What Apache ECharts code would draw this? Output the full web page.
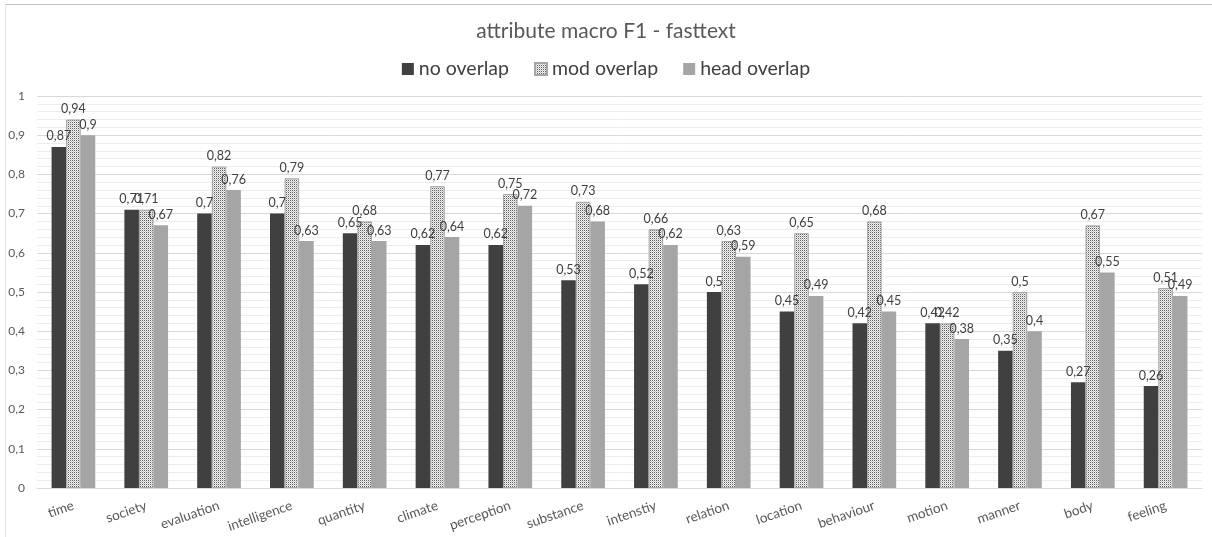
<!DOCTYPE html>
<html>
<head>
<meta charset="utf-8">
<script src="https://cdn.jsdelivr.net/npm/echarts@6/dist/echarts.min.js"></script>
<style>
  html, body { margin: 0; padding: 0; background: #fff; }
  #chart { width: 1212px; height: 537px; }
</style>
</head>
<body>
<div id="chart"></div>
<script>
const categories = ['time', 'society', 'evaluation', 'intelligence', 'quantity', 'climate', 'perception', 'substance', 'intenstiy', 'relation', 'location', 'behaviour', 'motion', 'manner', 'body', 'feeling'];
const noOverlap   = [0.87, 0.71, 0.70, 0.70, 0.65, 0.62, 0.62, 0.53, 0.52, 0.50, 0.45, 0.42, 0.42, 0.35, 0.27, 0.26];
const modOverlap  = [0.94, 0.71, 0.82, 0.79, 0.68, 0.77, 0.75, 0.73, 0.66, 0.63, 0.65, 0.68, 0.42, 0.50, 0.67, 0.51];
const headOverlap = [0.90, 0.67, 0.76, 0.63, 0.63, 0.64, 0.72, 0.68, 0.62, 0.59, 0.49, 0.45, 0.38, 0.40, 0.55, 0.49];
const yTicks = [0, 0.1, 0.2, 0.3, 0.4, 0.5, 0.6, 0.7, 0.8, 0.9, 1];

const FONT = 'Lato, "Open Sans", sans-serif';
const TEXT = '#595959';

// dotted fill for the "mod overlap" bars
function dotPattern() {
  const c = document.createElement('canvas');
  c.width = 2; c.height = 2;
  const g = c.getContext('2d');
  g.fillStyle = '#f4f4f4';
  g.fillRect(0, 0, 2, 2);
  g.fillStyle = '#5e5e5e';
  g.fillRect(0, 0, 1, 1);
  g.fillStyle = '#c4c4c4';
  g.fillRect(1, 1, 1, 1);
  return { image: c, repeat: 'repeat' };
}

const comma = v => String(+v.toFixed(2)).replace('.', ',');

const label = {
  show: true,
  position: 'top',
  distance: 4,
  color: '#404040',
  fontSize: 12.5,
  fontFamily: FONT,
  formatter: p => comma(p.value)
};

const chart = echarts.init(document.getElementById('chart'), null, { renderer: 'canvas' });
chart.setOption({
  animation: false,
  backgroundColor: '#ffffff',
  title: {
    text: 'attribute macro F1 - fasttext',
    left: 'center',
    top: 16,
    textStyle: { color: TEXT, fontSize: 21, fontWeight: 'normal', fontFamily: FONT }
  },
  legend: {
    top: 54,
    left: 'center',
    itemWidth: 12,
    itemHeight: 12,
    itemGap: 25,
    icon: 'rect',
    textStyle: { color: '#404040', fontSize: 19.5, fontFamily: FONT },
    data: ['no overlap', 'mod overlap', 'head overlap']
  },
  grid: { left: 37, right: 10, top: 96, bottom: 49, containLabel: false },
  xAxis: {
    type: 'category',
    data: categories,
    axisLine: { lineStyle: { color: '#d9d9d9', width: 1 } },
    axisTick: { show: false },
    axisLabel: { rotate: 19, margin: 17, color: TEXT, fontSize: 13.5, fontFamily: FONT, interval: 0 }
  },
  yAxis: {
    type: 'value',
    min: yTicks[0],
    max: yTicks[yTicks.length - 1],
    interval: 0.1,
    axisLine: { show: false },
    axisTick: { show: false },
    axisLabel: { color: TEXT, fontSize: 12, fontFamily: FONT, margin: 12, formatter: v => comma(v) },
    splitLine: { lineStyle: { color: '#d9d9d9', width: 1 } },
    minorTick: { show: false, splitNumber: 5 },
    minorSplitLine: { show: true, lineStyle: { color: '#ededed', width: 1 } }
  },
  series: [
    {
      name: 'no overlap', type: 'bar', data: noOverlap,
      barGap: '0%', barCategoryGap: '40%',
      itemStyle: { color: '#404040' },
      label: label
    },
    {
      name: 'mod overlap', type: 'bar', data: modOverlap,
      barGap: '0%', barCategoryGap: '40%',
      itemStyle: { color: dotPattern(), borderColor: '#a6a6a6', borderWidth: 1 },
      label: label
    },
    {
      name: 'head overlap', type: 'bar', data: headOverlap,
      barGap: '0%', barCategoryGap: '40%',
      itemStyle: { color: '#a5a5a5' },
      label: label
    }
  ],
  graphic: [
    { type: 'line', shape: { x1: 5, y1: 4.5, x2: 1212, y2: 4.5 }, style: { stroke: '#bfbfbf', lineWidth: 1 } },
    { type: 'line', shape: { x1: 5.5, y1: 4, x2: 5.5, y2: 537 }, style: { stroke: '#e3e3e3', lineWidth: 1 } }
  ]
});
</script>
</body>
</html>
